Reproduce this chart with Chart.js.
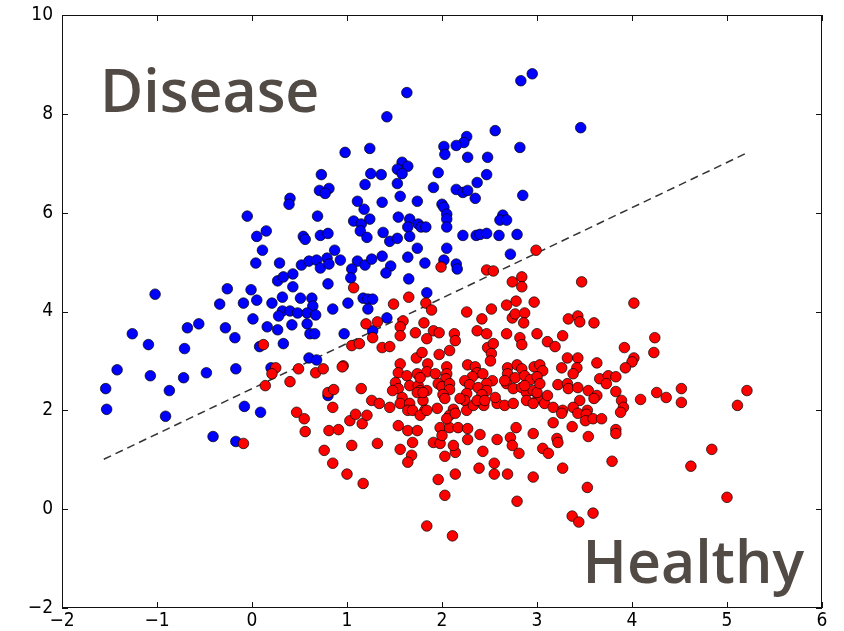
<!DOCTYPE html>
<html>
<head>
<meta charset="utf-8">
<script src="https://cdn.jsdelivr.net/npm/chart.js@4.4.1/dist/chart.umd.min.js"></script>
<style>
  html, body { margin: 0; padding: 0; background: #fff; }
  #wrap { width: 844px; height: 631px; }
</style>
</head>
<body>
<div id="wrap"><canvas id="chart" width="844" height="631"></canvas></div>
<script>
// "Disease" points (blue)
const blueX = [2.95,2.83,1.63,1.42,3.46,2.56,2.82,2.26,2.23,2.15,
  2.02,2.03,2.27,2.48,0.98,1.24,2.47,2.37,1.96,1.58,
  1.64,1.53,1.58,1.25,1.36,0.73,1.19,1.53,0.71,0.81,
  0.77,1.91,2.15,2.22,2.27,2.35,2.85,1.56,1.11,1.18,
  1.37,1.74,2.00,2.02,2.05,2.05,2.05,0.69,1.07,1.15,
  1.24,1.54,1.66,1.64,1.75,1.78,1.83,2.64,2.61,2.68,
  2.22,2.36,2.40,2.47,2.60,2.79,1.14,1.21,1.38,1.45,
  1.53,1.66,0.54,0.56,0.72,0.80,1.74,2.05,0.87,2.72,
  0.40,0.39,-0.05,0.05,0.15,0.11,0.04,0.29,0.52,0.60,
  0.68,0.72,0.79,0.81,0.93,1.11,1.19,1.26,1.37,1.05,
  1.04,1.46,1.41,1.64,1.65,1.82,2.02,2.15,2.16,0.80,
  0.27,0.33,0.43,0.43,-0.01,-0.26,-0.09,0.05,0.21,0.32,
  0.51,0.63,0.64,0.85,1.01,1.17,1.22,1.27,1.22,1.42,
  0.32,0.40,0.48,0.58,0.67,0.28,0.01,-1.02,-0.34,-1.26,
  -1.09,-0.68,-0.56,-0.28,-0.18,-0.71,0.16,0.27,0.42,0.58,
  0.61,0.66,0.08,0.33,0.97,1.27,-1.42,-1.54,-1.53,-1.07,
  -0.87,-0.72,-0.48,-0.17,-0.91,-0.08,0.09,-0.41,-0.17,0.60,
  0.68,0.20,0.80,1.84];
const blueY = [8.81,8.67,8.43,7.94,7.72,7.66,7.32,7.54,7.42,7.36,
  7.34,7.18,7.12,7.12,7.22,7.30,6.77,6.61,6.81,7.02,
  6.94,6.88,6.79,6.79,6.77,6.77,6.57,6.59,6.45,6.49,
  6.39,6.51,6.47,6.41,6.45,6.29,6.35,6.33,6.23,6.07,
  6.21,6.23,6.17,6.11,5.97,5.87,5.71,5.93,5.83,5.77,
  5.87,5.91,5.87,5.71,5.77,5.71,5.71,5.95,5.85,5.85,
  5.54,5.54,5.56,5.58,5.54,5.56,5.63,5.50,5.60,5.42,
  5.48,5.52,5.52,5.46,5.54,5.58,5.28,5.28,5.24,5.16,
  6.29,6.17,5.93,5.52,5.63,5.24,4.98,4.98,4.94,5.02,
  5.04,4.88,5.08,4.96,5.04,5.02,4.94,5.06,5.12,4.86,
  4.68,4.92,4.78,5.10,4.66,4.98,5.04,4.96,4.86,4.56,
  4.62,4.70,4.76,4.50,4.44,4.46,4.17,4.23,4.17,4.29,
  4.27,4.27,4.11,4.05,4.17,4.27,4.25,4.25,4.05,3.87,
  4.01,4.01,3.97,3.97,3.93,3.91,3.85,4.35,4.15,3.55,
  3.33,3.67,3.75,3.67,3.47,3.25,3.69,3.63,3.73,3.75,
  3.55,3.55,3.29,3.35,3.55,3.61,2.82,2.44,2.02,2.70,
  2.40,2.66,2.76,2.84,1.88,2.08,1.96,1.47,1.37,3.06,
  3.02,2.86,2.30,4.38];

// "Healthy" points (red)
const redX = [2.99,2.47,2.54,1.99,2.74,2.84,2.84,3.47,1.07,1.49,
  1.65,1.83,1.89,2.26,2.42,2.52,2.68,2.78,2.97,2.74,
  2.77,2.87,2.86,3.33,3.43,3.45,3.60,4.02,1.59,1.56,
  1.81,1.91,1.97,1.20,1.32,1.27,1.56,1.72,1.84,2.13,
  2.14,2.37,2.47,2.68,2.82,2.84,3.00,3.11,3.19,3.27,
  1.05,1.13,1.37,1.45,2.48,2.54,2.52,4.24,4.23,3.92,
  0.96,1.73,1.79,1.97,1.56,1.54,1.63,1.74,1.85,1.84,
  1.93,2.05,2.05,2.04,2.27,2.35,2.37,2.32,2.43,2.53,
  2.47,2.69,2.79,2.84,2.69,2.77,2.87,2.93,2.97,3.03,
  3.06,3.00,3.26,3.32,3.43,3.42,3.63,3.38,4.02,4.00,
  3.93,3.66,3.75,3.83,3.73,1.15,1.51,1.54,1.58,1.66,
  1.75,1.77,1.84,1.96,2.00,2.08,2.08,2.01,2.03,2.24,
  2.29,2.38,2.47,2.42,2.26,2.24,2.68,2.75,2.84,2.89,
  2.96,2.89,3.01,3.22,3.32,3.33,3.43,3.54,3.63,3.45,
  3.60,3.83,3.89,3.91,3.88,4.09,4.26,4.36,4.52,4.52,
  5.21,5.11,1.26,1.34,1.45,1.56,1.66,1.64,1.80,1.82,
  1.95,2.12,2.08,2.26,2.33,2.44,2.58,2.66,2.75,2.96,
  3.08,3.17,3.27,3.38,3.53,3.43,3.52,3.51,3.59,3.68,
  3.26,3.17,3.37,3.54,3.83,3.83,3.21,3.22,3.06,3.12,
  3.27,3.79,4.62,4.84,5.00,3.53,3.59,3.37,3.44,2.96,
  2.96,2.79,2.72,2.74,2.78,2.81,2.58,2.40,2.27,2.43,
  2.39,2.55,2.55,2.69,1.91,1.98,2.03,2.14,2.12,1.96,
  2.03,2.14,1.84,2.11,1.54,1.64,1.74,1.69,1.56,1.68,
  1.64,1.32,1.05,1.00,1.17,1.03,1.09,1.16,1.21,
  0.81,0.91,0.76,0.85,0.47,0.55,0.56,
  0.14,0.40,0.80,0.86,0.85,-0.09,
  0.12,0.25,0.21,0.49,0.67,0.75,0.95,
  1.98,2.08,2.17,2.27,2.00,2.05,2.14,1.69,1.77,1.84,
  1.48,1.74,1.80,1.77,2.37,2.45,2.56,2.66,3.11,2.19,
  3.00,3.03,2.87,2.08,2.51];
const redY = [5.24,4.84,4.82,4.90,4.60,4.70,4.50,4.60,4.48,4.15,
  4.29,4.17,4.03,3.99,3.85,4.05,4.13,4.21,4.19,3.87,
  3.95,3.97,3.77,3.85,3.91,3.79,3.77,4.17,3.81,3.69,
  3.77,3.61,3.57,3.75,3.79,3.47,3.51,3.57,3.45,3.55,
  3.41,3.61,3.55,3.55,3.47,3.33,3.55,3.39,3.29,3.51,
  3.31,3.35,3.27,3.29,3.27,3.35,3.15,3.47,3.17,3.27,
  2.90,3.06,3.17,3.13,2.94,2.76,2.70,2.74,2.94,2.78,
  2.74,2.88,2.74,2.64,2.92,2.88,2.76,2.68,2.74,2.60,
  2.54,2.86,2.92,2.84,2.74,2.66,2.70,2.62,2.88,2.92,
  2.80,2.68,2.86,3.06,3.06,2.86,2.96,2.74,3.06,2.98,
  2.86,2.64,2.70,2.68,2.54,2.44,2.56,2.44,2.26,2.50,
  2.50,2.40,2.40,2.54,2.48,2.54,2.42,2.32,2.24,2.60,
  2.52,2.46,2.40,2.32,2.34,2.20,2.54,2.44,2.46,2.36,
  2.40,2.20,2.24,2.52,2.54,2.44,2.46,2.40,2.30,2.20,
  2.24,2.38,2.20,2.06,1.96,2.22,2.36,2.26,2.44,2.16,
  2.40,2.10,2.20,2.14,2.06,2.14,2.14,2.00,2.20,2.00,
  2.04,2.02,1.90,2.00,2.10,2.10,2.14,2.10,2.14,2.14,
  2.14,2.06,2.00,2.06,2.00,1.94,1.92,1.79,1.83,1.83,
  1.94,1.75,1.67,1.47,1.61,1.53,1.43,1.35,1.23,1.13,
  0.83,0.97,0.87,1.21,0.24,0.44,-0.08,-0.14,-0.26,1.53,
  0.65,0.16,1.45,1.29,1.65,1.13,1.41,1.51,1.41,1.17,
  0.83,0.93,0.71,0.71,1.35,1.33,1.07,1.15,1.29,0.60,
  0.28,0.71,-0.34,-0.54,1.69,1.59,1.59,1.35,1.21,1.09,
  0.95,1.33,1.29,0.71,0.52,1.79,1.92,1.73,1.90,
  1.59,1.61,1.19,0.93,1.96,1.83,1.57,
  2.50,2.58,2.36,2.42,2.06,1.33,
  3.33,2.86,2.74,2.84,2.76,2.84,2.88,
  1.65,1.65,1.65,1.63,1.49,1.83,1.94,2.00,1.90,2.00,
  2.40,2.36,2.36,2.66,2.20,2.20,2.26,2.60,2.30,2.24,
  2.36,2.54,2.50,3.21,3.00];

// dashed separating line (two ends)
const lineX = [-1.56, 5.20];
const lineY = [1.01, 7.20];

// axis ticks
const xTicks = [-2, -1, 0, 1, 2, 3, 4, 5, 6];
const yTicks = [-2, 0, 2, 4, 6, 8, 10];

// big labels: text, x, baseline y (data units)
const labelText = ['Disease', 'Healthy'];
const labelX = [-1.60, 3.48];
const labelY = [8.04, -1.49];

const tickFont = { family: "'DejaVu Sans Condensed', 'DejaVu Sans', sans-serif", size: 19 };

function pairs(xs, ys) {
  return xs.map((x, i) => ({ x: x, y: ys[i] }));
}

function fmt(v) {
  return v < 0 ? '\u2212' + Math.abs(v) : String(v);
}

const framePlugin = {
  id: 'frame',
  afterDraw(chart) {
    const ctx = chart.ctx;
    const a = chart.chartArea;
    const xs = chart.scales.x, ys = chart.scales.y;
    ctx.save();
    ctx.strokeStyle = '#111';
    ctx.lineWidth = 1;
    ctx.strokeRect(a.left + 0.5, a.top + 0.5, a.right - a.left - 1, a.bottom - a.top - 1);

    // inward ticks on all four sides
    const len = 6;
    ctx.beginPath();
    xTicks.forEach(v => {
      const px = Math.round(xs.getPixelForValue(v)) + 0.5;
      ctx.moveTo(px, a.bottom); ctx.lineTo(px, a.bottom - len);
      ctx.moveTo(px, a.top); ctx.lineTo(px, a.top + len);
    });
    yTicks.forEach(v => {
      const py = Math.round(ys.getPixelForValue(v)) + 0.5;
      ctx.moveTo(a.left, py); ctx.lineTo(a.left + len, py);
      ctx.moveTo(a.right, py); ctx.lineTo(a.right - len, py);
    });
    ctx.stroke();

    ctx.fillStyle = '#514a45';
    ctx.font = "600 59px 'Open Sans', sans-serif";
    ctx.textBaseline = 'alphabetic';
    ctx.textAlign = 'left';
    labelText.forEach((t, i) => {
      ctx.fillText(t, xs.getPixelForValue(labelX[i]), ys.getPixelForValue(labelY[i]));
    });
    ctx.restore();
  }
};

new Chart(document.getElementById('chart'), {
  type: 'scatter',
  data: {
    datasets: [
      {
        label: 'Healthy',
        data: pairs(redX, redY),
        backgroundColor: '#ff0000',
        borderColor: '#000',
        borderWidth: 0.7,
        pointRadius: 5.3,
        order: 1
      },
      {
        label: 'Disease',
        data: pairs(blueX, blueY),
        backgroundColor: '#0000ff',
        borderColor: '#000',
        borderWidth: 0.7,
        pointRadius: 5.3,
        order: 2
      },
      {
        label: 'boundary',
        data: pairs(lineX, lineY),
        showLine: true,
        borderColor: '#333',
        borderWidth: 1.5,
        borderDash: [8, 5],
        pointRadius: 0,
        order: 3
      }
    ]
  },
  options: {
    responsive: false,
    animation: false,
    layout: { padding: { top: 15, right: 22, left: 0, bottom: 0 } },
    plugins: { legend: { display: false }, tooltip: { enabled: false } },
    scales: {
      x: {
        type: 'linear', min: -2, max: 6,
        afterBuildTicks: s => { s.ticks = xTicks.map(v => ({ value: v })); },
        afterFit: s => { s.height = 23; s.paddingLeft = 0; s.paddingRight = 0; },
        grid: { display: false, drawTicks: false },
        border: { display: false },
        ticks: { padding: 2, color: '#000', font: tickFont, maxRotation: 0, autoSkip: false, callback: v => fmt(v) }
      },
      y: {
        type: 'linear', min: -2, max: 10,
        afterBuildTicks: s => { s.ticks = yTicks.map(v => ({ value: v })); },
        afterFit: s => { s.width = 62; s.paddingTop = 0; s.paddingBottom = 0; },
        grid: { display: false, drawTicks: false },
        border: { display: false },
        ticks: { padding: 9, color: '#000', font: tickFont, autoSkip: false, callback: v => fmt(v) }
      }
    }
  },
  plugins: [framePlugin]
});
</script>
</body>
</html>
